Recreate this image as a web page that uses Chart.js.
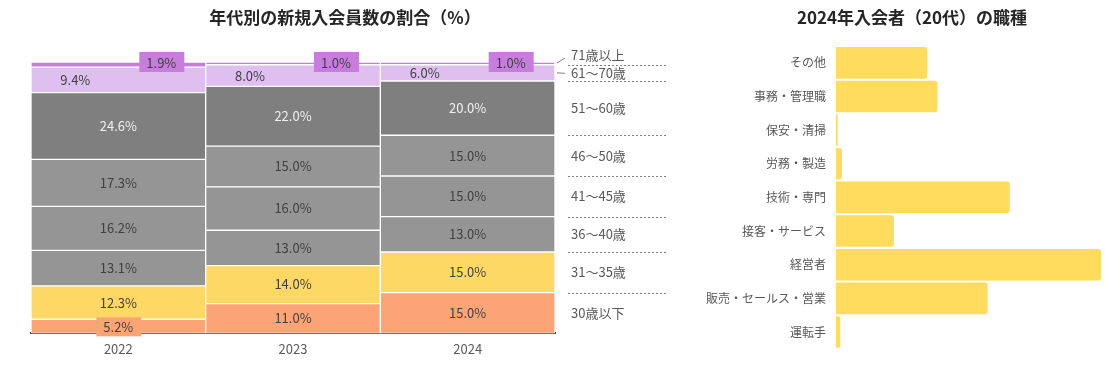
<!DOCTYPE html>
<html>
<head>
<meta charset="utf-8">
<script src="https://cdn.jsdelivr.net/npm/chart.js@4.4.1/dist/chart.umd.min.js"></script>
<style>
  html, body { margin: 0; padding: 0; background: #fff; overflow: hidden; }
  #wrap { position: relative; width: 1105px; height: 366px; }
  #ageBox { position: absolute; left: 0; top: 0; width: 690px; height: 366px; }
  #jobBox { position: absolute; left: 690px; top: 0; width: 444px; height: 366px; }
</style>
</head>
<body>
<div id="wrap">
  <div id="ageBox"><canvas id="ageChart"></canvas></div>
  <div id="jobBox"><canvas id="jobChart"></canvas></div>
</div>
<script>
// --- data: share of new members by age group (%) ---
const years = ['2022', '2023', '2024'];
const ageGroups = ['30歳以下', '31〜35歳', '36〜40歳', '41〜45歳', '46〜50歳', '51〜60歳', '61〜70歳', '71歳以上'];
const share2022 = [5.2, 12.3, 13.1, 16.2, 17.3, 24.6, 9.4, 1.9];
const share2023 = [11.0, 14.0, 13.0, 16.0, 15.0, 22.0, 8.0, 1.0];
const share2024 = [15.0, 15.0, 13.0, 15.0, 15.0, 20.0, 6.0, 1.0];
const ageColors = ['#FCA476', '#FED865', '#959595', '#959595', '#959595', '#7F7F7F', '#DFBFF0', '#C77DDB'];

// --- data: occupations of 2024 members in their 20s (%) ---
const jobs = ['その他', '事務・管理職', '保安・清掃', '労務・製造', '技術・専門', '接客・サービス', '経営者', '販売・セールス・営業', '運転手'];
const jobShare = [10.7, 11.9, 0.2, 0.7, 20.4, 6.8, 31.1, 17.8, 0.5];

Chart.defaults.font.family = "'Noto Sans CJK JP', 'Noto Sans', sans-serif";
Chart.defaults.animation = false;

// empty side axis, only used to reserve room (keeps the title centred on the canvas)
function spacer(pos, w) {
    return {
        axis: 'y', position: pos, display: true,
        grid: { display: false, drawTicks: false },
        border: { display: false },
        ticks: { display: false },
        afterFit(scale) { scale.width = w; }
    };
}

const yearShares = [share2022, share2023, share2024];
const ageDatasets = ageGroups.map((name, i) => ({
    label: name,
    data: yearShares.map(s => s[i]),
    backgroundColor: ageColors[i],
    borderColor: '#ffffff',
    borderWidth: 1,
    borderSkipped: false,
    barPercentage: 1,
    categoryPercentage: 1
}));

// value labels inside the stacked bars + the side legend
const ageLabels = {
    id: 'ageLabels',
    afterDatasetsDraw(chart) {
        const ctx = chart.ctx;
        ctx.save();
        ctx.font = "13px 'Noto Sans CJK JP', sans-serif";
        ctx.textAlign = 'center';
        ctx.textBaseline = 'middle';
        chart.data.datasets.forEach((ds, i) => {
            chart.getDatasetMeta(i).data.forEach((bar, j) => {
                const txt = ds.data[j].toFixed(1) + '%';
                const midY = (bar.y + bar.base) / 2;
                if (i === 7) {
                    // top group: tag box to the right
                    ctx.fillStyle = '#C77DDB';
                    ctx.fillRect(bar.x + 43 - 22, bar.y - 10, 45, 20);
                    ctx.fillStyle = '#404040';
                    ctx.fillText(txt, bar.x + 43, bar.y + 1);
                } else if (i === 6) {
                    ctx.fillStyle = '#404040';
                    ctx.fillText(txt, bar.x - 43, midY);
                } else if (i === 0 && j === 0) {
                    ctx.fillStyle = '#FCA476';
                    ctx.fillRect(bar.x - 22, midY - 9, 45, 19);
                    ctx.fillStyle = '#404040';
                    ctx.fillText(txt, bar.x, midY + 1);
                } else {
                    ctx.fillStyle = i === 5 ? '#F0F0F0' : '#404040';
                    ctx.fillText(txt, bar.x, midY);
                }
            });
        });

        // legend to the right, lined up with the 2024 bar
        const last = years.length - 1;
        const right = chart.chartArea.right;
        ctx.textAlign = 'left';
        ctx.fillStyle = '#595959';
        ctx.strokeStyle = '#7F7F7F';
        ctx.lineWidth = 1;
        chart.data.datasets.forEach((ds, i) => {
            const bar = chart.getDatasetMeta(i).data[last];
            let y = (bar.y + bar.base) / 2;
            if (i === 7) {
                y = bar.y - 7;
                ctx.setLineDash([]);
                ctx.beginPath();
                ctx.moveTo(right + 2, bar.y + 1);
                ctx.lineTo(right + 10, bar.y - 4);
                ctx.stroke();
            } else if (i === 6) {
                ctx.setLineDash([]);
                ctx.beginPath();
                ctx.moveTo(right + 2, y);
                ctx.lineTo(right + 10, y + 0.5);
                ctx.stroke();
            }
            ctx.fillText(ds.label, right + 16, y);
            if (i < 7) {
                ctx.setLineDash([2, 2]);
                ctx.beginPath();
                ctx.moveTo(right + 13, Math.round(bar.y) + 0.5);
                ctx.lineTo(right + 113, Math.round(bar.y) + 0.5);
                ctx.stroke();
            }
        });
        ctx.restore();
    }
};

new Chart(document.getElementById('ageChart'), {
    type: 'bar',
    data: { labels: years, datasets: ageDatasets },
    options: {
        responsive: true,
        maintainAspectRatio: false,
        layout: { padding: { left: 0, right: 0, top: 0, bottom: 1 } },
        plugins: {
            legend: { display: false },
            tooltip: { enabled: false },
            title: {
                display: true,
                text: '年代別の新規入会員数の割合（%）',
                color: '#262626',
                font: { size: 17, weight: 'bold' },
                padding: { top: 7, bottom: 34.6 }
            }
        },
        scales: {
            x: {
                stacked: true,
                z: 1,
                grid: { display: false, drawTicks: false },
                border: { display: true, color: '#3A3A3A', width: 2 },
                ticks: { color: '#595959', font: { size: 13 }, padding: 8 }
            },
            y: Object.assign(spacer('left', 31), { stacked: true, min: 0, max: 100 }),
            legendRoom: spacer('right', 135)
        }
    },
    plugins: [ageLabels]
});

new Chart(document.getElementById('jobChart'), {
    type: 'bar',
    data: {
        labels: jobs,
        datasets: [{
            label: '職種',
            data: jobShare,
            backgroundColor: '#FFDC5E',
            borderRadius: 3,
            barPercentage: 0.94,
            categoryPercentage: 1
        }]
    },
    options: {
        indexAxis: 'y',
        responsive: true,
        maintainAspectRatio: false,
        layout: { padding: { left: 0, right: 0, top: 0, bottom: 3 } },
        plugins: {
            legend: { display: false },
            tooltip: { enabled: false },
            title: {
                display: true,
                text: '2024年入会者（20代）の職種',
                color: '#262626',
                font: { size: 17, weight: 'bold' },
                padding: { top: 7, bottom: 18.6 }
            }
        },
        scales: {
            x: { display: false, min: 0, max: 31.1 },
            y: {
                grid: { display: false, drawTicks: false },
                border: { display: false },
                ticks: { color: '#595959', font: { size: 12 }, padding: 10 },
                afterFit(scale) { scale.width = 146; }
            },
            edgeRoom: spacer('right', 33)
        }
    }
});
</script>
</body>
</html>
